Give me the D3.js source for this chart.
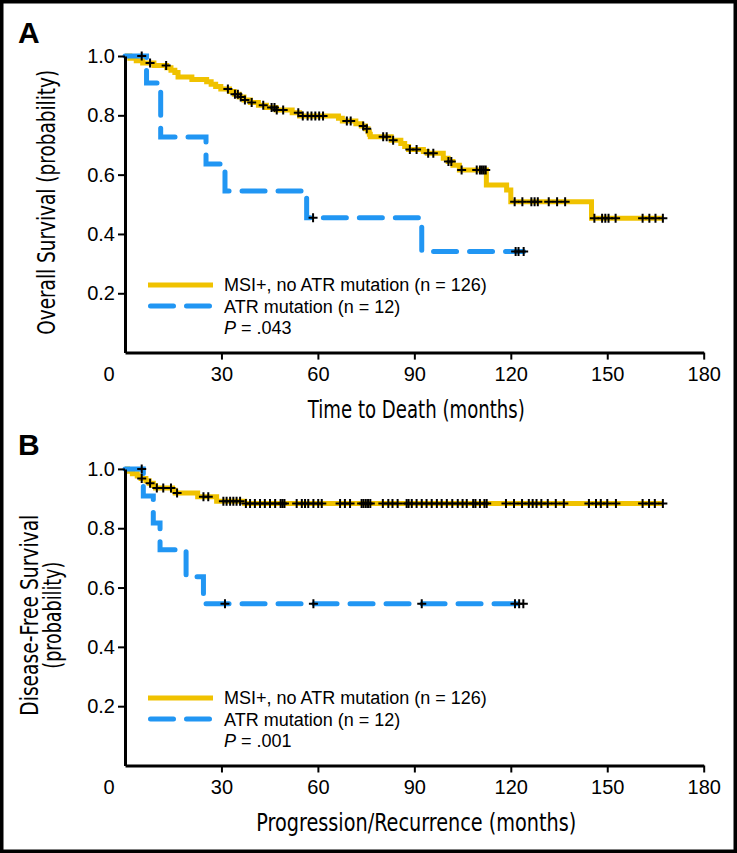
<!DOCTYPE html>
<html><head><meta charset="utf-8">
<script src="https://cdn.jsdelivr.net/npm/d3@7"></script>
<style>body{margin:0;background:#fff} svg{display:block}</style>
</head><body>
<svg id="c" width="737" height="853"></svg>
<script>
// ---------- DATA ----------
const xTicks = [30, 60, 90, 120, 150, 180];
const yTicks = [0.2, 0.4, 0.6, 0.8, 1.0];
const legendLabels = ["MSI+, no ATR mutation (n = 126)", "ATR mutation (n = 12)"];
const pValues = [".043", ".001"];
const xTitles = ["Time to Death (months)", "Progression/Recurrence (months)"];
const yTitlesA = ["Overall Survival (probability)"];
const yTitlesB = ["Disease-Free Survival", "(probability)"];

// Panel A: overall survival
const osMsiTimes = [1.5, 3.5, 5.5, 9, 13, 14.3, 15.5, 16.5, 20.8, 25.4, 26.8, 28.2, 29.8, 32.5, 34, 35.5, 37, 39, 41.5, 44, 47, 52, 54.3, 66.4, 67.6, 71.8, 73.5, 74.8, 75.6, 76, 76.3, 82.8, 85.8, 87, 88.2, 92.8, 94, 99, 100.5, 102, 104, 112.4, 118.7, 120, 145.1];
const osMsiSurv  = [0.992, 0.984, 0.976, 0.968, 0.96, 0.952, 0.944, 0.929, 0.921, 0.913, 0.905, 0.897, 0.889, 0.88, 0.871, 0.862, 0.852, 0.843, 0.834, 0.826, 0.818, 0.809, 0.798, 0.79, 0.781, 0.772, 0.764, 0.755, 0.745, 0.736, 0.728, 0.716, 0.705, 0.695, 0.685, 0.678, 0.672, 0.655, 0.644, 0.632, 0.616, 0.565, 0.548, 0.509, 0.453];
const osMsiCensor = [7.8, 12.8, 32, 34.2, 35.1, 36, 37.3, 39.4, 43, 45.6, 46.5, 47.2, 49.2, 53.9, 55.3, 56.8, 58, 59.2, 60.4, 61.6, 69, 70.2, 74.1, 75.2, 80.3, 81.4, 83.4, 88.6, 90.7, 94.3, 95.9, 100.6, 101.5, 104.7, 109.4, 110.4, 111, 111.6, 112.2, 121.2, 123.6, 126.4, 127.4, 128.4, 131.8, 134.4, 136.9, 146, 148.4, 149.4, 150.4, 152.6, 161, 163.1, 165, 167.3];
const osAtrTimes = [6.7, 11.1, 25.2, 31.1, 56.5, 92.3];
const osAtrSurv  = [0.909, 0.727, 0.636, 0.545, 0.455, 0.341];
const osAtrCensor = [5.2, 58.5, 121.5, 122.4, 124];

// Panel B: disease-free survival
const dfsMsiTimes = [0.8, 2.3, 3.8, 5, 6.5, 7.5, 8.8, 9.5, 14.8, 15.6, 22.6, 28.5, 37.2];
const dfsMsiSurv  = [0.992, 0.984, 0.976, 0.968, 0.96, 0.952, 0.944, 0.936, 0.928, 0.919, 0.906, 0.891, 0.883];
const dfsMsiCensor = [5.2, 7.8, 9.9, 11.9, 14.3, 16.2, 24.4, 25.9, 30.6, 31.6, 32.7, 33.7, 34.7, 35.8, 37.6, 38.9, 40.4, 42, 43.5, 45.1, 46.7, 48.4, 49, 49.6, 53.4, 55, 56, 57, 58.6, 60.1, 61.2, 66.9, 68.4, 70, 73.6, 74.2, 74.9, 75.6, 76.3, 80.2, 81.9, 83.2, 84.8, 87.6, 88.2, 89.2, 90.7, 92.3, 93.8, 95.4, 97, 98.5, 100.1, 101.8, 103.5, 105, 106.3, 108.3, 109, 110.4, 111.8, 112.5, 118.5, 121, 123.5, 125.6, 126.8, 128, 129.5, 131.5, 134, 136.5, 144.3, 146.5, 148, 150, 152.7, 161, 163, 164.8, 167.3];
const dfsAtrTimes = [5.7, 8.8, 10.9, 19, 24.4];
const dfsAtrSurv  = [0.909, 0.818, 0.727, 0.636, 0.545];
const dfsAtrCensor = [5.2, 31.1, 58.6, 92.3, 121.3, 122.6, 123.9];

// ---------- STYLE ----------
const YELLOW = "#F0C200", BLUE = "#2196F3";
const SANS = "'Liberation Sans', Arial, Helvetica, sans-serif";
const NARROW = "'Liberation Sans Narrow', 'Arial Narrow', 'DejaVu Sans Condensed', sans-serif";

const svg = d3.select('#c');
svg.append('rect').attr('x', 1.75).attr('y', 1.75).attr('width', 733.5).attr('height', 849.5)
  .attr('fill', 'none').attr('stroke', '#000').attr('stroke-width', 3.5);

const x = d3.scaleLinear().domain([0, 180]).range([125, 703.7]);

function stepPoints(times, surv, endT) {
  const pts = [[0, 1]];
  times.forEach((t, i) => pts.push([t, surv[i]]));
  pts.push([endT, surv[surv.length - 1]]);
  return pts;
}
function survAt(times, surv, t) {
  let s = 1;
  for (let i = 0; i < times.length; i++) if (times[i] <= t) s = surv[i];
  return s;
}

function panel(cfg) {
  const y = d3.scaleLinear().domain([0, 1]).range([cfg.y0, cfg.y1]);
  const g = svg.append('g');

  // curves
  const line = d3.line().x(d => x(d[0])).y(d => y(d[1])).curve(d3.curveStepAfter);
  const series = [
    {times: cfg.msiT, surv: cfg.msiS, cens: cfg.msiC, color: YELLOW, dash: null},
    {times: cfg.atrT, surv: cfg.atrS, cens: cfg.atrC, color: BLUE, dash: "23,13"}
  ];
  series.forEach(s => {
    const endT = d3.max(s.cens);
    g.append('path').datum(stepPoints(s.times, s.surv, endT))
      .attr('d', line).attr('fill', 'none').attr('stroke', s.color)
      .attr('stroke-width', 5)
      .attr('stroke-linecap', s.dash ? 'round' : 'butt')
      .attr('stroke-linejoin', 'miter')
      .attr('stroke-dasharray', s.dash);
  });
  series.forEach(s => {
    g.selectAll(null).data(s.cens).enter().append('path')
      .attr('transform', t => `translate(${x(t)},${y(survAt(s.times, s.surv, t))})`)
      .attr('d', 'M-4.5,0H4.5M0,-4.5V4.5')
      .attr('stroke', '#000').attr('stroke-width', 2).attr('fill', 'none');
  });

  // axes
  const xa = g.append('g').attr('transform', `translate(0,${cfg.y0})`)
    .call(d3.axisBottom(x).tickValues(xTicks).tickSize(7).tickSizeOuter(0));
  const ya = g.append('g').attr('transform', `translate(${x(0)},0)`)
    .call(d3.axisLeft(y).tickValues(yTicks).tickFormat(d3.format('.1f')).tickSize(7).tickSizeOuter(0));
  [xa, ya].forEach(a => {
    a.select('.domain').attr('stroke', '#000').attr('stroke-width', 3);
    a.selectAll('.tick line').attr('stroke', '#000').attr('stroke-width', 2);
    a.selectAll('.tick text').attr('fill', '#000').style('font-family', SANS).style('font-size', '20px');
  });
  xa.selectAll('.tick text').attr('y', 28).attr('dy', 0);
  ya.selectAll('.tick text').attr('x', -10).attr('dy', '0.33em');
  g.append('text').attr('x', x(0) - 16).attr('y', cfg.y0 + 28).attr('text-anchor', 'middle')
    .style('font-family', SANS).style('font-size', '20px').text('0');

  // axis titles
  g.append('text').attr('x', x(90) + 2).attr('y', cfg.y0 + 65.5).attr('text-anchor', 'middle')
    .style('font-family', NARROW).style('font-size', '25px')
    .attr('textLength', cfg.xTitleLen).attr('lengthAdjust', 'spacingAndGlyphs')
    .text(cfg.xTitle);
  const ymid = (cfg.y0 + cfg.y1) / 2;
  cfg.yTitle.forEach((t, i) => {
    g.append('text')
      .attr('transform', `translate(${cfg.yTitleX[i]},${ymid - 2})rotate(-90)`)
      .attr('text-anchor', 'middle')
      .style('font-family', NARROW).style('font-size', '25px')
      .attr('textLength', cfg.yTitleLen[i]).attr('lengthAdjust', 'spacingAndGlyphs')
      .text(t);
  });

  // panel label
  g.append('text').attr('x', 18).attr('y', cfg.labelY).style('font-family', SANS)
    .style('font-size', '30px').style('font-weight', 'bold').text(cfg.label);

  // legend
  const ly = cfg.y0 - 67.5;
  g.append('line').attr('x1', 148).attr('x2', 213).attr('y1', ly).attr('y2', ly)
    .attr('stroke', YELLOW).attr('stroke-width', 5);
  g.append('line').attr('x1', 150.5).attr('x2', 213).attr('y1', ly + 21).attr('y2', ly + 21)
    .attr('stroke', BLUE).attr('stroke-width', 5).attr('stroke-linecap', 'round')
    .attr('stroke-dasharray', '23,13');
  legendLabels.forEach((t, i) => {
    g.append('text').attr('x', 224).attr('y', ly + 5.8 + i * 21.8)
      .style('font-family', SANS).style('font-size', '18px').text(t);
  });
  const pt = g.append('text').attr('x', 224).attr('y', ly + 49)
    .style('font-family', SANS).style('font-size', '18px');
  pt.append('tspan').style('font-style', 'italic').text('P');
  pt.append('tspan').text(' = ' + cfg.p);
}

panel({
  y0: 352.6, y1: 56, label: 'A', labelY: 43,
  msiT: osMsiTimes, msiS: osMsiSurv, msiC: osMsiCensor,
  atrT: osAtrTimes, atrS: osAtrSurv, atrC: osAtrCensor,
  xTitle: xTitles[0], xTitleLen: 217, yTitle: yTitlesA, yTitleX: [55], yTitleLen: [265],
  p: pValues[0]
});
panel({
  y0: 765.5, y1: 468.9, label: 'B', labelY: 455,
  msiT: dfsMsiTimes, msiS: dfsMsiSurv, msiC: dfsMsiCensor,
  atrT: dfsAtrTimes, atrS: dfsAtrSurv, atrC: dfsAtrCensor,
  xTitle: xTitles[1], xTitleLen: 320, yTitle: yTitlesB, yTitleX: [38, 61], yTitleLen: [201, 107],
  p: pValues[1]
});
</script>
</body></html>
